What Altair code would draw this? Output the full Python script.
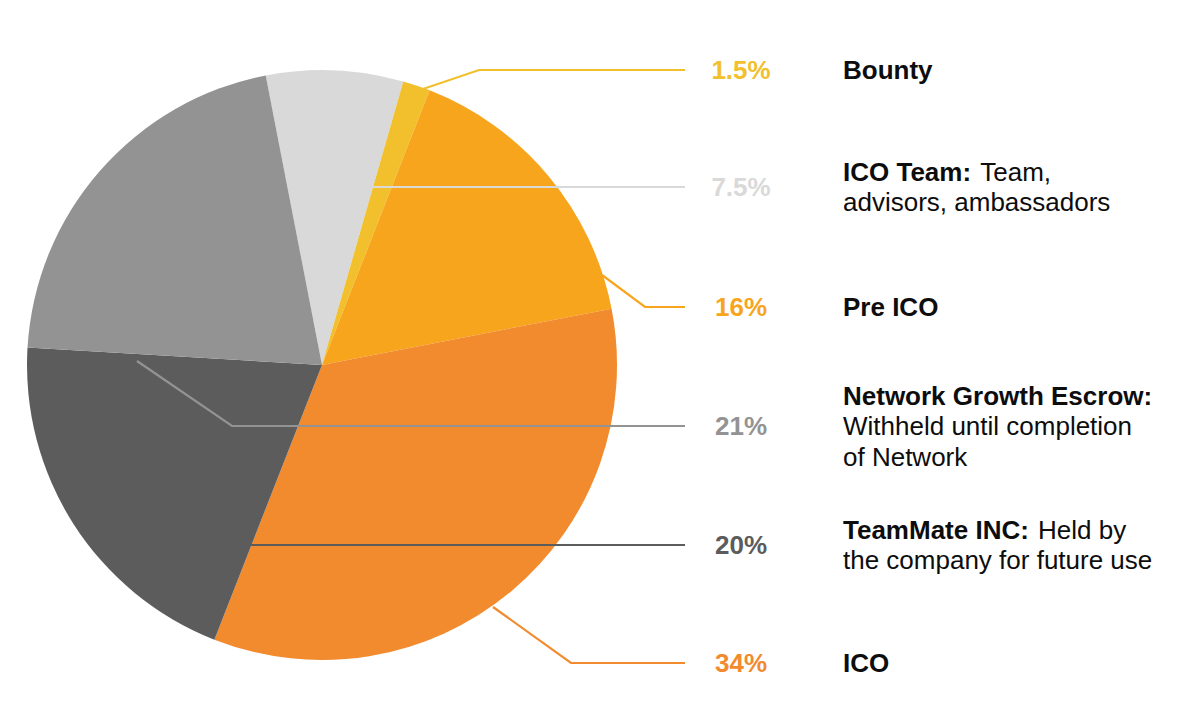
import math
import altair as alt
import pandas as pd

# ---------------- data ----------------
categories = ["ICO Team", "Bounty", "Pre ICO", "ICO", "TeamMate INC", "Network Growth Escrow"]
shares = [7.5, 1.5, 16, 34, 20, 21]
pct_labels = ["7.5%", "1.5%", "16%", "34%", "20%", "21%"]
bold_parts = [["ICO Team:", ""], ["Bounty"], ["Pre ICO"], ["ICO"],
              ["TeamMate INC:", ""], ["Network Growth Escrow:", "", ""]]
regular_parts = [["Team,", "advisors, ambassadors"], [""], [""], [""],
                 ["Held by", "the company for future use"],
                 ["", "Withheld until completion", "of Network"]]

# ---------------- styles / layout ----------------
colors = ["#D9D9D9", "#F2C02C", "#F7A51C", "#F28A2E", "#5C5C5C", "#939393"]
W, H = 1203, 728
CX, CY, R = 322, 365, 295
START = math.radians(-11)
FONT = "Liberation Sans"
FS = 26
LINE_H = 30.5
PCT_X = 741
NAME_X = 843
row_y = [187, 70, 307, 663, 545, 426]
leader_pts = [
    [(373, 187), (685, 187)],
    [(423, 89), (479, 70), (685, 70)],
    [(602, 275), (645, 307), (685, 307)],
    [(493, 607), (571, 663), (685, 663)],
    [(250, 545), (685, 545)],
    [(137, 361), (232, 426), (685, 426)],
]

# Arial / Liberation Sans Bold advance widths (per 1000 em)
BOLD_W = {" ": 278, ":": 333, "I": 278, "C": 722, "O": 778, "T": 611, "e": 556,
          "a": 556, "m": 889, "M": 833, "t": 333, "N": 722}
REG_SPACE = 278


def bold_width(s):
    return sum(BOLD_W.get(ch, 600) for ch in s) * FS / 1000.0


# ---------------- tables ----------------
pie_df = pd.DataFrame({"cat": categories, "share": shares, "idx": range(len(categories))})

line_rows = []
for c, pts in zip(categories, leader_pts):
    for k, (x, y) in enumerate(pts):
        line_rows.append({"cat": c, "k": k, "x": x, "y": y})
line_df = pd.DataFrame(line_rows)

pct_df = pd.DataFrame({"cat": categories, "text": pct_labels,
                       "x": [PCT_X] * len(categories), "y": [y + 9 for y in row_y]})

bold_rows, reg_rows = [], []
for c, y0, bl, rl in zip(categories, row_y, bold_parts, regular_parts):
    n = len(bl)
    for i, (b, r) in enumerate(zip(bl, rl)):
        yy = y0 + 9 + LINE_H * (i - (n - 1) / 2)
        if b:
            bold_rows.append({"text": b, "x": NAME_X, "y": yy})
        if r:
            xr = NAME_X + (bold_width(b) + REG_SPACE * FS / 1000.0 if b else 0)
            reg_rows.append({"text": r, "x": xr, "y": yy})
bold_df = pd.DataFrame(bold_rows)
reg_df = pd.DataFrame(reg_rows)

# ---------------- chart ----------------
xs = alt.Scale(domain=[0, W], range=[0, W], nice=False, zero=False)
ys = alt.Scale(domain=[0, H], range=[0, H], nice=False, zero=False)
cs = alt.Scale(domain=categories, range=colors)

pie = alt.Chart(pie_df).mark_arc(radius=R).encode(
    theta=alt.Theta("share:Q", stack=True,
                    scale=alt.Scale(range=[START, START + 2 * math.pi])),
    color=alt.Color("cat:N", scale=cs, legend=None),
    order=alt.Order("idx:Q"),
    x=alt.value(CX),
    y=alt.value(CY),
)

lines = alt.Chart(line_df).mark_line(strokeWidth=2.2).encode(
    x=alt.X("x:Q", scale=xs, axis=None),
    y=alt.Y("y:Q", scale=ys, axis=None),
    detail="cat:N",
    order="k:Q",
    color=alt.Color("cat:N", scale=cs, legend=None),
)

pct = alt.Chart(pct_df).mark_text(font=FONT, fontSize=FS, fontWeight="bold",
                                   align="center", baseline="alphabetic").encode(
    x=alt.X("x:Q", scale=xs, axis=None),
    y=alt.Y("y:Q", scale=ys, axis=None),
    text="text:N",
    color=alt.Color("cat:N", scale=cs, legend=None),
)

names = alt.Chart(bold_df).mark_text(font=FONT, fontSize=FS, fontWeight="bold",
                                     align="left", baseline="alphabetic",
                                     color="#0d0d0d").encode(
    x=alt.X("x:Q", scale=xs, axis=None),
    y=alt.Y("y:Q", scale=ys, axis=None),
    text="text:N",
)

descs = alt.Chart(reg_df).mark_text(font=FONT, fontSize=FS, fontWeight="normal",
                                    align="left", baseline="alphabetic",
                                    color="#0d0d0d").encode(
    x=alt.X("x:Q", scale=xs, axis=None),
    y=alt.Y("y:Q", scale=ys, axis=None),
    text="text:N",
)

chart = alt.layer(pie, lines, pct, names, descs).properties(
    width=W, height=H, padding=0,
    autosize=alt.AutoSizeParams(type="none"),
    background="white",
).configure_view(stroke=None)

chart.save("out.html", embed_options={"renderer": "svg", "actions": False})
